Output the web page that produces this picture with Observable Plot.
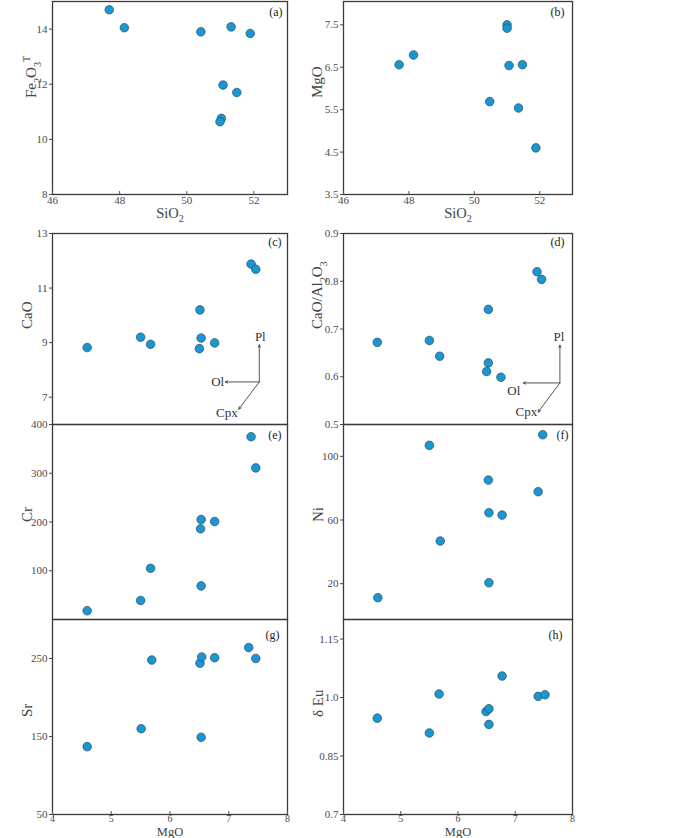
<!DOCTYPE html>
<html><head><meta charset="utf-8">
<script src="https://cdn.jsdelivr.net/npm/d3@7"></script>
<script src="https://cdn.jsdelivr.net/npm/@observablehq/plot@0.6"></script>
<style>
body{margin:0;background:#fff;}
#chart{position:relative;width:700px;height:838px;font-family:"Liberation Serif",serif;}
#chart svg{position:absolute;overflow:visible;}
#chart svg text{font-family:"Liberation Serif",serif;}
</style></head><body><div id="chart"></div>
<script>
// (a) SiO2 vs Fe2O3T
const sio2A = [47.69, 48.14, 50.42, 51.32, 51.89, 51.08, 51.49, 51.03, 50.99];
const fe2o3T = [14.70, 14.05, 13.90, 14.08, 13.84, 11.97, 11.70, 10.76, 10.64];
// (b) SiO2 vs MgO
const sio2B = [47.70, 48.14, 51.00, 51.00, 51.06, 51.47, 50.47, 51.35, 51.88];
const mgoB = [6.56, 6.79, 7.50, 7.42, 6.54, 6.56, 5.69, 5.54, 4.60];
// (c) MgO vs CaO
const mgoC = [4.59, 5.50, 5.67, 6.51, 6.53, 6.50, 6.76, 7.38, 7.46];
const cao = [8.82, 9.20, 8.94, 10.20, 9.17, 8.78, 8.99, 11.88, 11.69];
// (d) MgO vs CaO/Al2O3
const mgoD = [4.59, 5.50, 5.68, 6.53, 6.53, 6.50, 6.75, 7.38, 7.46];
const caoAl = [0.672, 0.676, 0.643, 0.741, 0.629, 0.611, 0.599, 0.820, 0.804];
// (e) MgO vs Cr
const mgoE = [4.59, 5.50, 5.67, 6.53, 6.52, 6.53, 6.76, 7.38, 7.46];
const cr = [18, 39, 105, 69, 186, 205, 201, 375, 311];
// (f) MgO vs Ni
const mgoF = [4.60, 5.50, 5.69, 6.53, 6.54, 6.54, 6.77, 7.40, 7.48];
const ni = [11.2, 106.9, 46.8, 85.1, 64.6, 20.6, 63.1, 77.8, 113.6];
// (g) MgO vs Sr
const mgoG = [4.59, 5.51, 5.69, 6.51, 6.54, 6.53, 6.76, 7.34, 7.46];
const sr = [137, 160, 248, 244, 252, 149, 251, 264, 250];
// (h) MgO vs δEu
const mgoH = [4.59, 5.50, 5.67, 6.49, 6.54, 6.54, 6.77, 7.40, 7.52];
const eu = [0.947, 0.909, 1.009, 0.964, 0.971, 0.931, 1.055, 1.003, 1.007];

// tick values and labels
const sio2Ticks = [46, 48, 50, 52];
const mgoTicks = [4, 5, 6, 7, 8];
const feTicks = [8, 10, 12, 14];
const mgoYTicks = [3.5, 4.5, 5.5, 6.5, 7.5];
const caoTicks = [7, 9, 11, 13];
const caoAlTicks = [0.5, 0.6, 0.7, 0.8, 0.9];
const crTicks = [100, 200, 300, 400];
const niTicks = [20, 60, 100];
const srTicks = [50, 150, 250];
const euTicks = [0.7, 0.85, 1.0, 1.15];
const euTickLabels = ["0.7", "0.85", "1.0", "1.15"];

// axis titles (_x = subscript, ^x = superscript)
const axisTitles = {
  sio2: "SiO_2", mgo: "MgO", fe: "Fe_2O_3^T", cao: "CaO", caoAl: "CaO/Al_2O_3",
  cr: "Cr", ni: "Ni", sr: "Sr", eu: "δ Eu"
};

// fractionation vectors (c), (d)
const vecLabels = ["Pl", "Ol", "Cpx"];
const vecOriginC = [7.52, 7.56];
const vecEndsC = [[7.52, 8.92], [6.94, 7.56], [7.17, 6.56]];
const vecOriginD = [7.78, 0.587];
const vecEndsD = [[7.78, 0.666], [7.14, 0.587], [7.40, 0.526]];

const panelTags = ["(a)", "(b)", "(c)", "(d)", "(e)", "(f)", "(g)", "(h)"];

const chart = document.getElementById("chart");
const INK = "#4a4a4a";
const NS = "http://www.w3.org/2000/svg";

function richText(svg) {
  svg.querySelectorAll("text").forEach(t => {
    const s = t.textContent;
    if (!/[_^]/.test(s)) return;
    const base = parseFloat(t.getAttribute("font-size")) || 15;
    const parts = [];
    let i = 0, buf = "";
    while (i < s.length) {
      if ((s[i] === "_" || s[i] === "^") && i + 1 < s.length) {
        if (buf) parts.push({t: buf, k: 0});
        buf = "";
        parts.push({t: s[i + 1], k: s[i] === "_" ? 1 : -1});
        i += 2;
      } else { buf += s[i]; i++; }
    }
    if (buf) parts.push({t: buf, k: 0});
    while (t.firstChild) t.removeChild(t.firstChild);
    let shift = 0;
    parts.forEach(p => {
      const ts = document.createElementNS(NS, "tspan");
      const target = p.k === 1 ? base * 0.28 : p.k === -1 ? -base * 0.45 : 0;
      ts.setAttribute("dy", (target - shift).toFixed(2));
      shift = target;
      if (p.k !== 0) ts.setAttribute("font-size", (base * 0.68).toFixed(1));
      ts.textContent = p.t;
      t.appendChild(ts);
    });
  });
}

function panel(o) {
  const ML = 60, MR = 12, MT = 12, MB = o.xLabel ? 34 : 12;
  const data = o.xs.map((x, i) => ({x, y: o.ys[i]}));
  const marks = [Plot.frame({stroke: "#3a3a3a", strokeWidth: 1.3})];
  if (o.xLabel) marks.push(Plot.tickX(o.xTicks, {x: d => d, insetTop: o.fh - 3, stroke: "#555"}));
  if (o.vec) {
    const [ox, oy] = o.vec.origin;
    const arr = o.vec.ends.map(e => ({x1: ox, y1: oy, x2: e[0], y2: e[1]}));
    marks.push(Plot.arrow(arr, {x1: "x1", y1: "y1", x2: "x2", y2: "y2", stroke: "#555", strokeWidth: 1, headLength: 4, headAngle: 50}));
    o.vec.ends.forEach((e, i) => {
      const s = o.vec.style[i];
      marks.push(Plot.text([vecLabels[i]], {x: () => e[0], y: () => e[1], text: d => d, fontSize: 13, fill: "#333", textAnchor: s.anchor, dx: s.dx, dy: s.dy}));
    });
  }
  marks.push(Plot.dot(data, {x: "x", y: "y", r: 4.3, fill: "#1a96d2", stroke: "#2b4d5e", strokeWidth: 0.7}));
  marks.push(Plot.text([o.tag], {frameAnchor: "top-right", dx: o.tagDx, dy: o.tagDy, fontSize: 12, fill: "#222", text: d => d}));
  marks.push(Plot.text([o.yLabel], {frameAnchor: "left", dx: o.yLabelDx, rotate: -90, fontSize: 15, fill: "#444", text: d => d}));
  if (o.xLabel) marks.push(Plot.text([o.xLabel], {frameAnchor: "bottom", dy: o.xLabelDy, lineAnchor: "middle", fontSize: o.xLabelSize, fill: "#444", text: d => d}));
  const svg = Plot.plot({
    width: ML + o.fw + MR,
    height: MT + o.fh + MB,
    marginLeft: ML, marginRight: MR, marginTop: MT, marginBottom: MB,
    style: {background: "transparent", fontFamily: "Liberation Serif, serif", fontSize: "11px", color: INK, overflow: "visible"},
    x: {domain: o.xDomain, ticks: o.xLabel ? o.xTicks : [], tickFormat: d => String(d), tickSize: 0, tickPadding: o.xTickPad ?? 2, label: null, axis: o.xLabel ? "bottom" : null},
    y: {domain: o.yDomain, ticks: o.yTicks, tickFormat: o.yFormat || (d => String(d)), tickSize: 3, tickPadding: 2, label: null},
    marks
  });
  if (o.xTickSize) {
    svg.querySelectorAll('[aria-label="x-axis"] text, [aria-label="x-axis tick label"] text').forEach(t => t.setAttribute("font-size", o.xTickSize));
    const ax = svg.querySelector('[aria-label="x-axis"], [aria-label="x-axis tick label"]');
    if (ax) ax.setAttribute("font-size", o.xTickSize);
  }
  richText(svg);
  svg.style.left = (o.fx - ML) + "px";
  svg.style.top = (o.fy - MT) + "px";
  chart.appendChild(svg);
}

const LX = 52, RX = 343, LW = 235, RW = 229;

panel({xs: sio2A, ys: fe2o3T, xDomain: [46, 53], yDomain: [8, 15], xTicks: sio2Ticks, yTicks: feTicks,
  xLabel: axisTitles.sio2, xLabelDy: 19, xLabelSize: 14.5, yLabel: axisTitles.fe, yLabelDx: -21, tag: panelTags[0], tagDx: -5, tagDy: 6,
  fx: LX, fy: 1, fw: LW, fh: 193});
panel({xs: sio2B, ys: mgoB, xDomain: [46, 53], yDomain: [3.5, 8.05], xTicks: sio2Ticks, yTicks: mgoYTicks,
  xLabel: axisTitles.sio2, xLabelDy: 19, xLabelSize: 14.5, yLabel: axisTitles.mgo, yLabelDx: -26, tag: panelTags[1], tagDx: -8, tagDy: 6,
  fx: RX, fy: 1, fw: RW, fh: 193});
panel({xs: mgoC, ys: cao, xDomain: [4, 8], yDomain: [6, 13], yTicks: caoTicks,
  yLabel: axisTitles.cao, yLabelDx: -25, tag: panelTags[2], tagDx: -6, tagDy: 4,
  fx: LX, fy: 233, fw: LW, fh: 191,
  vec: {origin: vecOriginC, ends: vecEndsC, style: [{anchor: "middle", dx: 1, dy: -8}, {anchor: "end", dx: -1, dy: 0}, {anchor: "end", dx: -1, dy: 4}]}});
panel({xs: mgoD, ys: caoAl, xDomain: [4, 8], yDomain: [0.5, 0.9], yTicks: caoAlTicks,
  yLabel: axisTitles.caoAl, yLabelDx: -26, tag: panelTags[3], tagDx: -8, tagDy: 4,
  fx: RX, fy: 233, fw: RW, fh: 191,
  vec: {origin: vecOriginD, ends: vecEndsD, style: [{anchor: "middle", dx: -1, dy: -8}, {anchor: "end", dx: -3, dy: 8}, {anchor: "end", dx: -1, dy: 0}]}});
panel({xs: mgoE, ys: cr, xDomain: [4, 8], yDomain: [0, 400], yTicks: crTicks,
  yLabel: axisTitles.cr, yLabelDx: -25, tag: panelTags[4], tagDx: -6, tagDy: 6,
  fx: LX, fy: 424, fw: LW, fh: 195});
panel({xs: mgoF, ys: ni, xDomain: [4, 8], yDomain: [-2.5, 120], yTicks: niTicks,
  yLabel: axisTitles.ni, yLabelDx: -25, tag: panelTags[5], tagDx: -4, tagDy: 6,
  fx: RX, fy: 424, fw: RW, fh: 195});
panel({xs: mgoG, ys: sr, xDomain: [4, 8], yDomain: [50, 300], xTicks: mgoTicks, yTicks: srTicks,
  xLabel: axisTitles.mgo, xLabelDy: 17.5, xLabelSize: 12.5, xTickPad: 0, xTickSize: 10, yLabel: axisTitles.sr, yLabelDx: -25, tag: panelTags[6], tagDx: -8, tagDy: 11,
  fx: LX, fy: 619, fw: LW, fh: 195});
panel({xs: mgoH, ys: eu, xDomain: [4, 8], yDomain: [0.7, 1.2], xTicks: mgoTicks, yTicks: euTicks,
  yFormat: d => euTickLabels[euTicks.indexOf(d)] ?? String(d),
  xLabel: axisTitles.mgo, xLabelDy: 17.5, xLabelSize: 12.5, xTickPad: 0, xTickSize: 10, yLabel: axisTitles.eu, yLabelDx: -25, tag: panelTags[7], tagDx: -10, tagDy: 11,
  fx: RX, fy: 619, fw: RW, fh: 195});
</script></body></html>
